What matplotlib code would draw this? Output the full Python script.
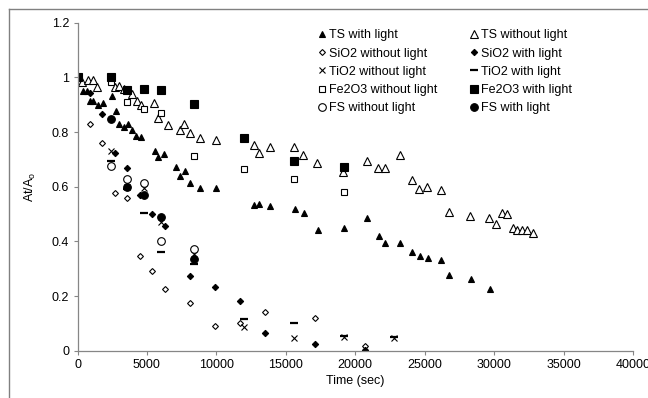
import numpy as np
import matplotlib
matplotlib.use('Agg')
import matplotlib.pyplot as plt
from matplotlib.lines import Line2D

plt.rcParams['font.family'] = ['Liberation Sans', 'DejaVu Sans']

# TS with light (filled triangles)
ts_l_x = [0, 370, 710, 900, 1140, 1500, 1860, 2460, 2750, 3010, 3350, 3660, 3950, 4230, 4550,
          5580, 5820, 6250, 7090, 7380, 7740, 8100, 8820, 9970, 12710, 13040, 13860, 15660,
          16310, 17340, 19160, 20870, 21690, 22140, 23220, 24060, 24680, 25260, 26170, 26720,
          28310, 29720]
ts_l_y = [1.0, 0.951, 0.951, 0.915, 0.915, 0.900, 0.905, 0.932, 0.877, 0.828, 0.820, 0.828, 0.809,
          0.787, 0.780, 0.731, 0.710, 0.720, 0.673, 0.639, 0.659, 0.614, 0.597, 0.594, 0.533,
          0.536, 0.531, 0.518, 0.503, 0.442, 0.450, 0.484, 0.420, 0.393, 0.395, 0.360, 0.347,
          0.340, 0.332, 0.277, 0.261, 0.227]

# TS without light (open triangles)
ts_d_x = [0, 300, 780, 1100, 1380, 2700, 3000, 3370, 3900, 4260, 4570, 5500, 5820, 6540, 7380,
          7690, 8100, 8820, 9970, 12710, 13040, 13860, 15610, 16260, 17270, 19140, 20820, 21660,
          22140, 23220, 24060, 24610, 25190, 26150, 26720, 28260, 29650, 30110, 30560, 30900,
          31330, 31620, 32000, 32390, 32820]
ts_d_y = [1.0, 0.984, 0.990, 0.990, 0.964, 0.964, 0.969, 0.956, 0.938, 0.914, 0.899, 0.905, 0.850,
          0.826, 0.808, 0.828, 0.795, 0.777, 0.771, 0.753, 0.724, 0.746, 0.746, 0.716, 0.686,
          0.655, 0.695, 0.668, 0.668, 0.716, 0.625, 0.592, 0.598, 0.588, 0.506, 0.493, 0.484,
          0.462, 0.503, 0.499, 0.448, 0.442, 0.442, 0.442, 0.432]

# SiO2
sio2_x = [0, 900, 1800, 2700, 3600, 4500, 5400, 6300, 8100, 9900, 11700, 13500, 17100, 20700]
sio2_d_y = [1.0, 0.828, 0.759, 0.578, 0.560, 0.348, 0.293, 0.226, 0.173, 0.091, 0.100, 0.143,
            0.121, 0.018]
sio2_l_y = [1.0, 0.944, 0.865, 0.725, 0.670, 0.570, 0.500, 0.456, 0.273, 0.234, 0.183, 0.064,
            0.025, 0.003]

# TiO2
tio2_x = [0, 2400, 3600, 4800, 6000, 8400, 12000, 15600, 19200, 22800]
tio2_d_y = [1.0, 0.732, 0.600, 0.594, 0.470, 0.355, 0.088, 0.048, 0.050, 0.045]
tio2_l_y = [1.0, 0.694, 0.590, 0.505, 0.360, 0.317, 0.116, 0.100, 0.055, 0.050]

# Fe2O3
fe_x = [0, 2400, 3600, 4800, 6000, 8400, 12000, 15600, 19200]
fe_d_y = [1.0, 0.984, 0.911, 0.884, 0.871, 0.713, 0.664, 0.628, 0.582]
fe_l_y = [1.0, 1.0, 0.954, 0.956, 0.954, 0.902, 0.779, 0.694, 0.673]

# FS
fs_x = [0, 2400, 3600, 4800, 6000, 8400]
fs_d_y = [1.0, 0.677, 0.630, 0.615, 0.400, 0.372]
fs_l_y = [1.0, 0.847, 0.598, 0.570, 0.488, 0.334]

fig = plt.figure(figsize=(6.48, 3.98), dpi=100)
ax = fig.add_axes([0.1196, 0.1188, 0.8573, 0.8242])

k = dict(linestyle='none', markeredgecolor='black', markeredgewidth=0.8)
h = {}
h['TS with light'], = ax.plot(ts_l_x, ts_l_y, marker='^', ms=4.5, color='black', **k)
h['TS without light'], = ax.plot(ts_d_x, ts_d_y, marker='^', ms=6, markerfacecolor='white', **k)
h['SiO2 without light'], = ax.plot(sio2_x, sio2_d_y, marker='D', ms=3, markerfacecolor='white', **k)
h['SiO2 with light'], = ax.plot(sio2_x, sio2_l_y, marker='D', ms=3.2, color='black', **k)
h['TiO2 without light'], = ax.plot(tio2_x, tio2_d_y, marker='x', ms=4, color='black', **k)
h['TiO2 with light'], = ax.plot(tio2_x, tio2_l_y, marker='_', ms=6, color='black',
                                linestyle='none', markeredgewidth=1.6)
h['Fe2O3 without light'], = ax.plot(fe_x, fe_d_y, marker='s', ms=5, markerfacecolor='white', **k)
h['Fe2O3 with light'], = ax.plot(fe_x, fe_l_y, marker='s', ms=5.5, color='black', **k)
h['FS without light'], = ax.plot(fs_x, fs_d_y, marker='o', ms=5.5, markerfacecolor='white', **k)
h['FS with light'], = ax.plot(fs_x, fs_l_y, marker='o', ms=5.5, color='black', **k)

order = ['TS with light', 'SiO2 without light', 'TiO2 without light', 'Fe2O3 without light',
         'FS without light', 'TS without light', 'SiO2 with light', 'TiO2 with light',
         'Fe2O3 with light', 'FS with light']
ax.legend([h[n] for n in order], order, ncol=2, frameon=False, fontsize=9,
          loc='upper left', bbox_to_anchor=(0.424, 0.995), handlelength=0.6,
          handletextpad=0.3, columnspacing=2.6, labelspacing=0.5, borderaxespad=0)

ax.set_xlim(0, 40000)
ax.set_ylim(0, 1.2)
ax.set_xticks(np.arange(0, 40001, 5000))
ax.set_yticks([0, 0.2, 0.4, 0.6, 0.8, 1.0, 1.2])
ax.set_yticklabels(['0', '0.2', '0.4', '0.6', '0.8', '1', '1.2'])
ax.tick_params(labelsize=9, length=3, width=0.8, color='#868686', direction='out', pad=3)
for s in ['top', 'right']:
    ax.spines[s].set_visible(False)
for s in ['left', 'bottom']:
    ax.spines[s].set_color('#868686')
    ax.spines[s].set_linewidth(0.9)
ax.set_xlabel('Time (sec)', fontsize=9, labelpad=3)
ax.set_ylabel('At/A$_\\mathregular{o}$', fontsize=9, labelpad=10)

# outer chart border
fig.add_artist(Line2D([8.5/648, 8.5/648], [0, 1 - 8.5/398], color='#808080', lw=1,
                      transform=fig.transFigure))
fig.add_artist(Line2D([8.5/648, 1], [1 - 8.5/398, 1 - 8.5/398], color='#808080', lw=1,
                      transform=fig.transFigure))

fig.savefig('out.png', dpi=100)
